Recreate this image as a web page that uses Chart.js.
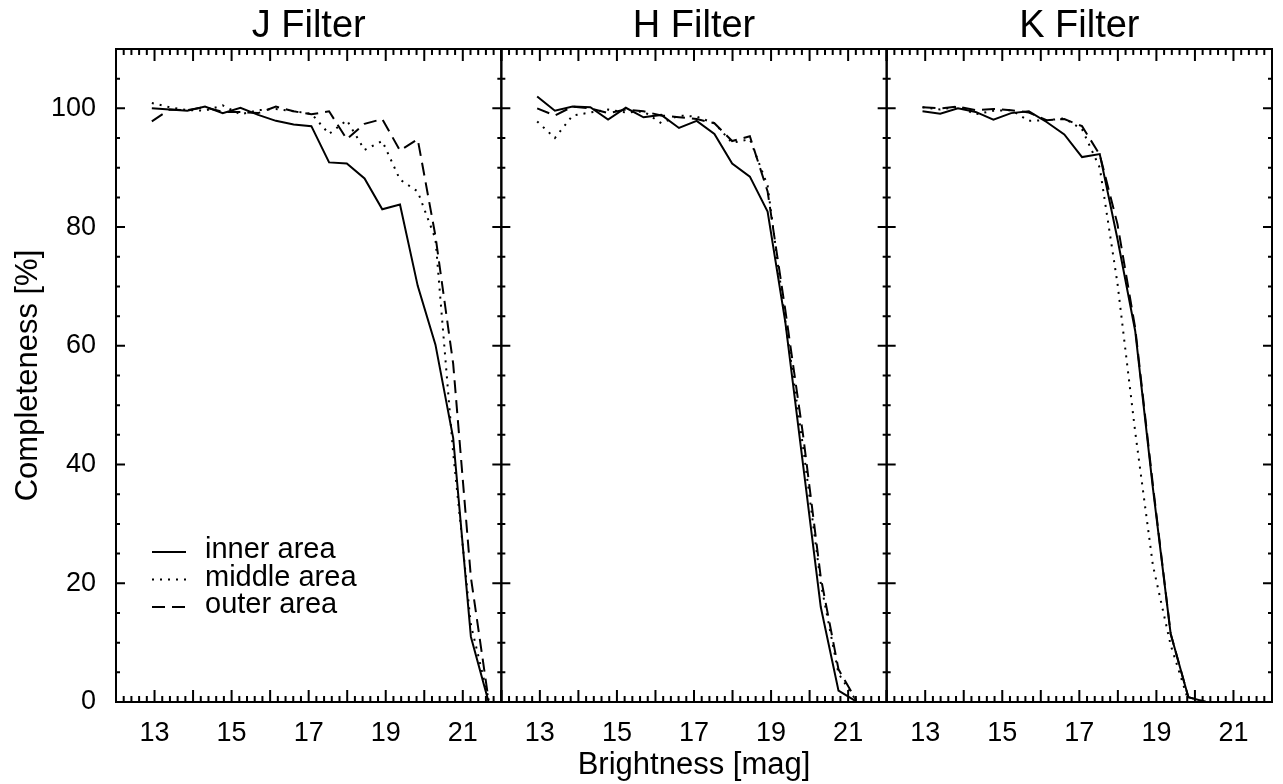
<!DOCTYPE html>
<html>
<head>
<meta charset="utf-8">
<title>Completeness</title>
<script src="https://cdn.jsdelivr.net/npm/chart.js@4.4.1/dist/chart.umd.min.js"></script>
<style>
  html, body { margin: 0; padding: 0; background: #fff; }
  canvas { display: block; }
</style>
</head>
<body>
<canvas id="completeness" width="1283" height="784"></canvas>
<script>
// magnitude bins
const mags = [12.93, 13.39, 13.85, 14.31, 14.77, 15.23, 15.69, 16.15, 16.61, 17.07,
              17.53, 17.99, 18.45, 18.91, 19.37, 19.83, 20.29, 20.75, 21.21, 21.67];

const filters = ["J Filter", "H Filter", "K Filter"];
const areas = ["inner area", "middle area", "outer area"];

// completeness in %, one value per bin
const jInner  = [100.0, 99.8, 99.6, 100.3, 99.2, 100.1, 98.9, 97.9, 97.3, 97.0, 90.9, 90.7, 88.2, 83.0, 83.8, 70.1, 60.2, 44.5, 11.0, 0.0];
const jMiddle = [100.9, 100.2, 99.7, 99.6, 100.5, 99.0, 99.7, 99.9, 99.5, 99.1, 95.7, 98.0, 93.0, 94.5, 88.0, 86.0, 78.0, 42.0, 13.0, 0.5];
const jOuter  = [97.8, 99.8, 99.7, 100.2, 99.4, 99.4, 99.2, 100.3, 99.5, 99.0, 99.5, 94.8, 97.4, 98.2, 92.9, 94.8, 78.5, 57.0, 21.0, 0.3];

const hInner  = [102.0, 99.6, 100.3, 100.2, 98.1, 100.1, 98.5, 98.9, 96.7, 97.9, 95.7, 90.7, 88.5, 82.6, 64.0, 40.0, 16.0, 1.9, 0.1];
const hMiddle = [97.8, 95.0, 98.8, 99.3, 99.8, 99.3, 99.5, 97.5, 98.8, 98.6, 97.5, 94.2, 94.8, 87.0, 64.2, 43.0, 20.0, 4.8, 0.2];
const hOuter  = [100.0, 98.8, 100.3, 100.0, 99.2, 99.8, 99.5, 98.8, 98.5, 98.2, 97.5, 94.5, 95.3, 86.0, 66.0, 45.0, 21.0, 5.5, 0.3];

const kInner  = [99.5, 99.1, 100.0, 99.4, 98.1, 99.2, 99.5, 97.7, 95.6, 91.8, 92.3, 78.0, 62.5, 36.0, 11.5, 0.8, 0.0];
const kMiddle = [100.2, 99.8, 100.3, 99.0, 99.6, 99.7, 97.9, 98.0, 98.3, 96.5, 90.0, 70.5, 45.5, 23.0, 9.6, 0.2];
const kOuter  = [100.2, 100.0, 100.3, 99.7, 99.9, 99.7, 99.3, 98.0, 98.2, 97.0, 92.2, 80.5, 63.0, 36.5, 11.5, 0.8, 0.0];

const xTickLabels = [13, 15, 17, 19, 21];
const yTickLabels = [0, 20, 40, 60, 80, 100];

const font = "'Liberation Sans', Arial, Helvetica, sans-serif";
const dashes = [[], [2, 6], [13, 7]];
const panelIds = ["xJ", "xH", "xK"];
const panelSeries = [[jInner, jMiddle, jOuter], [hInner, hMiddle, hOuter], [kInner, kMiddle, kOuter]];

const datasets = [];
panelSeries.forEach((series, p) => {
  series.forEach((values, a) => {
    datasets.push({
      label: areas[a],
      xAxisID: panelIds[p],
      yAxisID: "y",
      data: values.map((v, i) => ({ x: mags[i], y: v })),
      borderColor: "#000",
      borderWidth: 2,
      borderDash: dashes[a],
      pointRadius: 0,
      tension: 0,
      fill: false
    });
  });
});

function panelAxis(id) {
  return {
    type: "linear",
    position: "bottom",
    stack: "panels",
    stackWeight: 1,
    min: 12,
    max: 22,
    grid: { display: false },
    border: { display: false },
    afterBuildTicks: s => { s.ticks = xTickLabels.map(v => ({ value: v })); },
    afterFit: s => { s.height = 82; },
    ticks: { color: "#000", font: { family: font, size: 27 }, padding: 7, maxRotation: 0 },
    title: {
      display: id === "xH",
      text: "Brightness [mag]",
      color: "#000",
      font: { family: font, size: 31 },
      padding: { top: 0, bottom: 0 }
    }
  };
}

// IDL style box: frames, inward ticks, panel titles, legend
const idlFrame = {
  id: "idlFrame",
  afterDraw(chart) {
    const ctx = chart.ctx, area = chart.chartArea, y = chart.scales.y;
    ctx.save();
    ctx.strokeStyle = "#000";
    ctx.fillStyle = "#000";
    ctx.lineWidth = 2;
    panelIds.forEach((id, p) => {
      const x = chart.scales[id];
      const l = x.left, r = x.right;
      ctx.strokeRect(l, area.top, r - l, area.bottom - area.top);
      ctx.beginPath();
      for (let k = 0; k <= 50; k++) {
        const px = x.getPixelForValue(12 + k * 0.2);
        const len = k % 5 === 0 ? 12 : 6;
        ctx.moveTo(px, area.bottom); ctx.lineTo(px, area.bottom - len);
        ctx.moveTo(px, area.top); ctx.lineTo(px, area.top + len);
      }
      for (let v = 0; v <= 110; v += 5) {
        const py = y.getPixelForValue(v);
        const len = v % 20 === 0 ? 9 : 4;
        ctx.moveTo(l, py); ctx.lineTo(l + len, py);
        ctx.moveTo(r, py); ctx.lineTo(r - len, py);
      }
      ctx.stroke();
      ctx.font = "38px " + font;
      ctx.textAlign = "center";
      ctx.textBaseline = "alphabetic";
      ctx.fillText(filters[p], (l + r) / 2, area.top - 12);
    });

    const xJ = chart.scales.xJ;
    ctx.font = "29px " + font;
    ctx.textAlign = "left";
    areas.forEach((name, a) => {
      const base = area.top + 509 + a * 27.5;
      ctx.setLineDash(chart.data.datasets[a].borderDash);
      ctx.beginPath();
      ctx.moveTo(xJ.left + 36, base - 6);
      ctx.lineTo(xJ.left + 70, base - 6);
      ctx.stroke();
      ctx.setLineDash([]);
      ctx.fillText(name, xJ.left + 89, base);
    });
    ctx.restore();
  }
};

new Chart(document.getElementById("completeness").getContext("2d"), {
  type: "line",
  data: { datasets: datasets },
  options: {
    responsive: false,
    devicePixelRatio: 1,
    animation: false,
    layout: { padding: { top: 49, right: 11, left: 0, bottom: 0 } },
    plugins: {
      legend: { display: false },
      tooltip: { enabled: false },
      title: { display: false }
    },
    scales: {
      xJ: panelAxis("xJ"),
      xH: panelAxis("xH"),
      xK: panelAxis("xK"),
      y: {
        type: "linear",
        position: "left",
        min: 0,
        max: 110,
        grid: { display: false },
        border: { display: false },
        afterBuildTicks: s => { s.ticks = yTickLabels.map(v => ({ value: v })); },
        afterFit: s => { s.width = 116; },
        ticks: { color: "#000", font: { family: font, size: 27 }, padding: 12 },
        title: {
          display: true,
          text: "Completeness [%]",
          color: "#000",
          font: { family: font, size: 31 },
          padding: { top: 10, bottom: 0 }
        }
      }
    }
  },
  plugins: [idlFrame]
});
</script>
</body>
</html>
